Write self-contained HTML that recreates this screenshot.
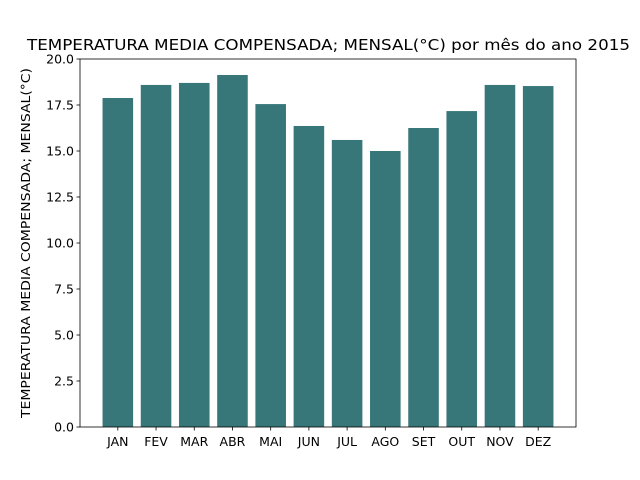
<!DOCTYPE html>
<html><head><meta charset="utf-8"><style>
body{margin:0;background:#fff;}
svg{display:block;font-family:"DejaVu Sans","Liberation Sans",sans-serif;}
</style></head><body>
<svg id="chart" width="640" height="480">
<rect x="0" y="0" width="640" height="480" fill="#fff"/>
<text x="328.5" y="50" text-anchor="middle" font-size="15" textLength="603" lengthAdjust="spacingAndGlyphs">TEMPERATURA MEDIA COMPENSADA; MENSAL(°C) por mês do ano 2015</text>
<g id="bars"></g>
<g id="axes"></g>
<text transform="translate(30,243) rotate(-90)" text-anchor="middle" font-size="12" textLength="350" lengthAdjust="spacingAndGlyphs">TEMPERATURA MEDIA COMPENSADA; MENSAL(°C)</text>
</svg>
<script>
const categories=["JAN","FEV","MAR","ABR","MAI","JUN","JUL","AGO","SET","OUT","NOV","DEZ"];
const values=[17.88,18.59,18.70,19.13,17.55,16.36,15.60,15.00,16.25,17.17,18.59,18.53];
const yTicks=[0,2.5,5,7.5,10,12.5,15,17.5,20];
const yTickLabels=["0.0","2.5","5.0","7.5","10.0","12.5","15.0","17.5","20.0"];
const NS="http://www.w3.org/2000/svg";
const L=80,R=576,T=59,B=427;
const xMin=-0.99,xMax=11.99,yMin=0,yMax=20;
function xs(v){return L+(v-xMin)/(xMax-xMin)*(R-L);}
function ys(v){return B-(v-yMin)/(yMax-yMin)*(B-T);}
function mk(tag,attrs,parent){const e=document.createElementNS(NS,tag);for(const k in attrs)e.setAttribute(k,attrs[k]);parent.appendChild(e);return e;}
const bars=document.getElementById('bars'),axes=document.getElementById('axes');
values.forEach((v,i)=>{
 const x0=xs(i-0.4),x1=xs(i+0.4);
 const r=mk('rect',{x:x0,y:ys(v),width:x1-x0,height:ys(0)-ys(v),fill:'#37777a'},bars);
 
 
 const t=mk('line',{x1:xs(i),x2:xs(i),y1:B,y2:B+3.5,stroke:'#000','stroke-width':0.8},axes);
 
 
 const lb=mk('text',{x:xs(i),y:B+19,'text-anchor':'middle','font-size':12.5},axes);
 lb.textContent=categories[i];
 
 
});
yTicks.forEach((v,i)=>{
 const t=mk('line',{x1:L-3.5,x2:L,y1:ys(v),y2:ys(v),stroke:'#000','stroke-width':0.8},axes);
 
 
 const lb=mk('text',{x:L-6,y:ys(v)+4.5,'text-anchor':'end','font-size':12.5},axes);
 lb.textContent=yTickLabels[i];
 
 
});
const f=mk('rect',{x:L,y:T,width:R-L,height:B-T,fill:'none',stroke:'#000','stroke-width':0.8},axes);


</script>
</body></html>
